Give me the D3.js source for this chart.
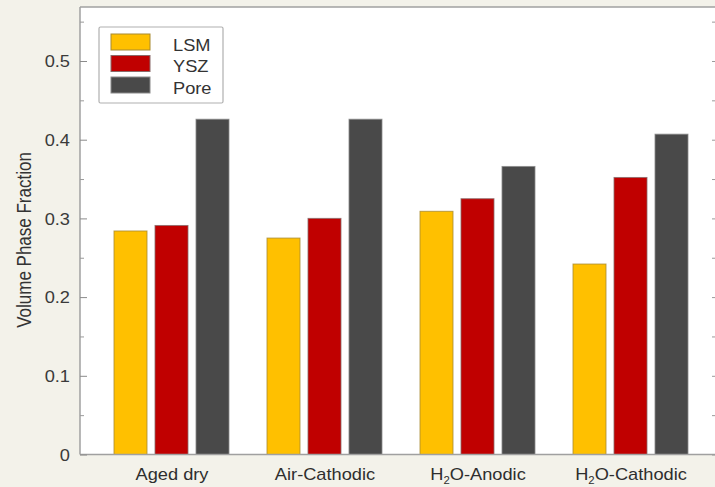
<!DOCTYPE html>
<html>
<head>
<meta charset="utf-8">
<script src="https://cdn.jsdelivr.net/npm/d3@7"></script>
<style>
  html, body { margin: 0; padding: 0; background: #f3f2ea; }
  svg { display: block; font-family: "Liberation Sans", Arial, sans-serif; }
</style>
</head>
<body>
<svg id="chart" width="715" height="487"></svg>
<script>
// Sample conditions along the x axis
const categories = ["Aged dry", "Air-Cathodic", "H2O-Anodic", "H2O-Cathodic"];
// Phases shown in each group
const seriesNames = ["LSM", "YSZ", "Pore"];
// Volume phase fraction per condition, one array per phase
const lsmValues  = [0.284, 0.275, 0.309, 0.242];
const yszValues  = [0.291, 0.300, 0.325, 0.352];
const poreValues = [0.426, 0.426, 0.366, 0.407];
// Major y tick values and minor tick values
const yTicks = [0, 0.1, 0.2, 0.3, 0.4, 0.5];
const yMinorTicks = [0.05, 0.15, 0.25, 0.35, 0.45, 0.55];

const seriesValues = [lsmValues, yszValues, poreValues];
const colors = ["#ffc000", "#c00000", "#494949"];
const strokes = ["#a88a30", "#8a6a6a", "#8a8a8a"];
const textStretch = 1.14;   // slightly wide lettering

const svg = d3.select("#chart");
const plot = { left: 80, right: 716, top: 7, bottom: 454.5 };

const y = d3.scaleLinear().domain([0, 0.5686]).range([plot.bottom, plot.top]);
const x0 = d3.scaleBand().domain(categories).range([95, 707]).paddingInner(0).paddingOuter(0);
const x1 = d3.scaleBand().domain(seriesNames).range([19, 134]).paddingInner(0.195).paddingOuter(0);

// Helper: horizontal text placed at (x, y) with a little horizontal stretch
function wideText(parent, x, yy, size, anchor) {
  return parent.append("text")
    .attr("transform", `translate(${x},${yy}) scale(${textStretch},1)`)
    .attr("text-anchor", anchor)
    .attr("font-size", size);
}

// Plot area
svg.append("rect")
  .attr("x", plot.left).attr("y", plot.top)
  .attr("width", plot.right - plot.left).attr("height", plot.bottom - plot.top)
  .attr("fill", "#ffffff");

// Bars
const groups = svg.append("g").selectAll("g")
  .data(categories)
  .join("g")
  .attr("transform", d => `translate(${x0(d)},0)`);

groups.selectAll("rect")
  .data((d, i) => seriesNames.map((s, j) => ({ s, j, v: seriesValues[j][i] })))
  .join("rect")
  .attr("x", d => x1(d.s))
  .attr("y", d => y(d.v))
  .attr("width", x1.bandwidth())
  .attr("height", d => y(0) - y(d.v))
  .attr("fill", d => colors[d.j])
  .attr("stroke", d => strokes[d.j])
  .attr("stroke-opacity", 0.8)
  .attr("stroke-width", 1);

// Frame lines
const frame = svg.append("g").attr("stroke", "#a0a0a0").attr("stroke-width", 1.5).attr("fill", "none");
frame.append("line").attr("x1", plot.left).attr("x2", plot.left).attr("y1", plot.top).attr("y2", plot.bottom);
frame.append("line").attr("x1", plot.left).attr("x2", plot.right).attr("y1", plot.top).attr("y2", plot.top);
frame.append("line").attr("x1", plot.left).attr("x2", plot.right).attr("y1", plot.bottom).attr("y2", plot.bottom);

// Left axis: inward ticks with labels
const yAxis = d3.axisRight(y).tickValues(yTicks).tickSize(7).tickFormat(d => d === 0 ? "0" : d3.format(".1f")(d));
const ya = svg.append("g").attr("transform", `translate(${plot.left},0)`).call(yAxis);
ya.select(".domain").remove();
ya.selectAll(".tick line").attr("stroke", "#8a8a8a");
ya.selectAll(".tick text")
  .attr("x", 0)
  .attr("transform", `translate(-10,0.5) scale(${textStretch},1)`)
  .attr("text-anchor", "end")
  .attr("fill", "#3a3a3a").attr("font-size", 16);

const yMinor = d3.axisRight(y).tickValues(yMinorTicks).tickSize(4).tickFormat("");
const ym = svg.append("g").attr("transform", `translate(${plot.left},0)`).call(yMinor);
ym.select(".domain").remove();
ym.selectAll(".tick line").attr("stroke", "#9a9a9a");

// Right side inward ticks
const yRight = d3.axisLeft(y).tickValues(yTicks.concat(yMinorTicks)).tickSize(4).tickFormat("");
const yr = svg.append("g").attr("transform", `translate(${plot.right},0)`).call(yRight);
yr.select(".domain").remove();
yr.selectAll(".tick line").attr("stroke", "#9a9a9a");

// Category labels (with subscript for H2O)
const xl = svg.append("g").attr("fill", "#2e2e2e");
categories.forEach(c => {
  const t = wideText(xl, x0(c) + x0.bandwidth() / 2 + 0.5, 479.5, 16, "middle");
  const m = c.match(/^H2O(.*)$/);
  if (m) {
    t.append("tspan").text("H");
    t.append("tspan").attr("font-size", 10).attr("dy", 4).text("2");
    t.append("tspan").attr("dy", -4).text("O" + m[1]);
  } else {
    t.text(c);
  }
});

// Y axis title
svg.append("text")
  .attr("transform", `translate(31,240) rotate(-90) scale(1,${textStretch})`)
  .attr("text-anchor", "middle")
  .attr("font-size", 17)
  .attr("fill", "#333")
  .text("Volume Phase Fraction");

// Legend
const legend = svg.append("g");
legend.append("rect")
  .attr("x", 99).attr("y", 27).attr("width", 124).attr("height", 76)
  .attr("fill", "#fff").attr("stroke", "#b0b0b0").attr("stroke-width", 1.2).attr("rx", 1.5);
seriesNames.forEach((s, j) => {
  const yy = 34 + j * 21.5;
  legend.append("rect")
    .attr("x", 111).attr("y", yy).attr("width", 39).attr("height", 16)
    .attr("fill", colors[j])
    .attr("stroke", strokes[j]).attr("stroke-width", 1);
  wideText(legend, 173, yy + 16.5, 16, "start")
    .attr("fill", "#333")
    .text(s);
});
</script>
</body>
</html>
